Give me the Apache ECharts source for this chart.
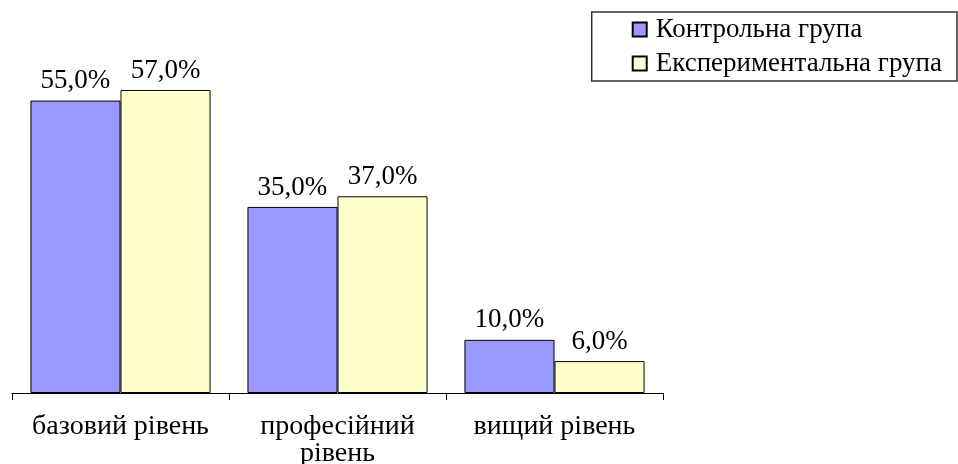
<!DOCTYPE html>
<html>
<head>
<meta charset="utf-8">
<script src="https://cdn.jsdelivr.net/npm/echarts@6/dist/echarts.min.js"></script>
<style>
  html, body { margin: 0; padding: 0; background: #fff; }
  #chart { width: 958px; height: 464px; }
</style>
</head>
<body>
<div id="chart"></div>
<script>
// дані діаграми
const categories = ['базовий рівень', 'професійний\nрівень', 'вищий рівень']
const controlGroup = [55, 35, 10]
const experimentalGroup = [57, 37, 6]
const seriesNames = ['Контрольна група', 'Експериментальна група']

const font = '"Liberation Serif", "Times New Roman", serif'

const pctLabel = {
  show: true,
  position: 'top',
  distance: 6,
  fontFamily: font,
  fontSize: 27,
  color: '#000',
  formatter: (p) => p.value.toFixed(1).replace('.', ',') + '%'
}

const chart = echarts.init(document.getElementById('chart'))
chart.setOption({
  animation: false,
  grid: { left: 12, right: 295, top: 74, bottom: 71, outerBoundsMode: 'none' },
  legend: {
    orient: 'vertical',
    right: 1,
    top: 12,
    padding: [4, 15, 4, 40],
    itemGap: 7,
    itemWidth: 14,
    itemHeight: 14,
    icon: 'rect',
    borderColor: '#333',
    borderWidth: 1.5,
    textStyle: { fontFamily: font, fontSize: 27, color: '#000', padding: [0, 0, 0, 4] },
    data: seriesNames
  },
  xAxis: {
    type: 'category',
    data: categories,
    axisLine: { lineStyle: { color: '#000', width: 1 } },
    axisTick: { show: true, length: 7, lineStyle: { color: '#000' } },
    axisLabel: {
      interval: 0,
      fontFamily: font,
      fontSize: 28,
      color: '#000',
      margin: 20,
      lineHeight: 27
    }
  },
  yAxis: {
    type: 'value',
    min: 0,
    max: 60,
    show: false
  },
  series: [
    {
      name: seriesNames[0],
      type: 'bar',
      data: controlGroup,
      barGap: '0%',
      barCategoryGap: '17%',
      itemStyle: { color: '#9999FF', borderColor: '#000', borderWidth: 1 },
      label: pctLabel
    },
    {
      name: seriesNames[1],
      type: 'bar',
      data: experimentalGroup,
      itemStyle: { color: '#FFFFCC', borderColor: '#000', borderWidth: 1 },
      label: pctLabel
    }
  ]
})
</script>
</body>
</html>
